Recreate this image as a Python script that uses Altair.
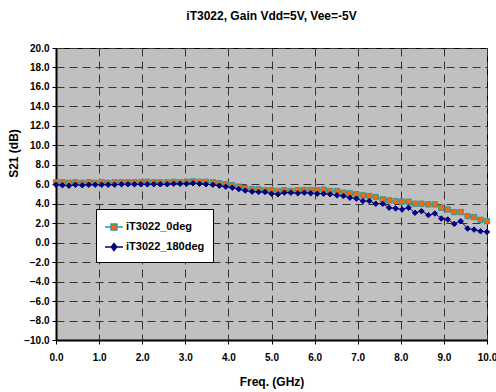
import altair as alt
import pandas as pd

freq = [0.00, 0.15, 0.30, 0.45, 0.61, 0.76, 0.91, 1.06, 1.21, 1.36,
        1.52, 1.67, 1.82, 1.97, 2.12, 2.27, 2.42, 2.58, 2.73, 2.88,
        3.03, 3.18, 3.33, 3.48, 3.64, 3.79, 3.94, 4.09, 4.24, 4.39,
        4.55, 4.70, 4.85, 5.00, 5.15, 5.30, 5.45, 5.61, 5.76, 5.91,
        6.06, 6.21, 6.36, 6.52, 6.67, 6.82, 6.97, 7.12, 7.27, 7.42,
        7.58, 7.73, 7.88, 8.03, 8.18, 8.33, 8.48, 8.64, 8.79, 8.94,
        9.09, 9.24, 9.39, 9.55, 9.70, 9.85, 10.00]

s21_0deg = [6.2, 6.2, 6.15, 6.2, 6.15, 6.2, 6.15, 6.2, 6.15, 6.2,
            6.2, 6.2, 6.2, 6.2, 6.25, 6.2, 6.2, 6.2, 6.25, 6.2,
            6.25, 6.3, 6.25, 6.25, 6.2, 6.1, 6.0, 5.9, 5.75, 5.6,
            5.48, 5.48, 5.38, 5.38, 5.31, 5.38, 5.31, 5.38, 5.41, 5.41,
            5.38, 5.45, 5.31, 5.31, 5.14, 5.07, 4.97, 4.86, 4.79, 4.69,
            4.45, 4.34, 4.28, 4.21, 4.21, 4.0, 4.0, 3.93, 3.93, 3.59,
            3.41, 3.14, 3.14, 2.72, 2.62, 2.34, 2.21]

s21_180deg = [5.95, 5.9, 5.85, 5.95, 5.9, 5.95, 5.95, 5.95, 5.95, 5.95,
              6.0, 6.0, 6.0, 6.0, 6.0, 6.0, 6.0, 6.0, 6.05, 6.05,
              6.05, 6.1, 6.05, 6.0, 5.95, 5.85, 5.75, 5.65, 5.5, 5.35,
              5.24, 5.21, 5.21, 5.03, 4.97, 5.14, 5.14, 5.07, 5.14, 5.07,
              5.03, 5.03, 4.97, 4.86, 4.79, 4.62, 4.52, 4.28, 4.28, 4.0,
              4.0, 3.59, 3.52, 3.41, 3.59, 3.07, 3.24, 2.83, 3.0, 2.48,
              2.38, 1.93, 2.21, 1.45, 1.34, 1.17, 1.10]

series_names = ["iT3022_0deg", "iT3022_180deg"]
x_ticks = [0, 1, 2, 3, 4, 5, 6, 7, 8, 9, 10]
y_ticks = [-10, -8, -6, -4, -2, 0, 2, 4, 6, 8, 10, 12, 14, 16, 18, 20]

df = pd.concat([
    pd.DataFrame({"freq": freq, "s21": s21_0deg, "series": series_names[0]}),
    pd.DataFrame({"freq": freq, "s21": s21_180deg, "series": series_names[1]}),
])

FONT = "Liberation Sans"
GRID = "#333333"

x_enc = alt.X("freq:Q", scale=alt.Scale(domain=[0, 10], nice=False),
              axis=alt.Axis(values=x_ticks, format=".1f", title="Freq. (GHz)",
                            grid=True, gridDash=[8, 5], gridColor=GRID, gridWidth=1,
                            domainColor="black", domainWidth=2, tickColor="black",
                            tickSize=4, labelPadding=8, titlePadding=14,
                            labelFlush=False))
y_enc = alt.Y("s21:Q", scale=alt.Scale(domain=[-10, 20], nice=False),
              axis=alt.Axis(values=y_ticks, format=".1f", title="S21 (dB)",
                            grid=True, gridDash=[8, 5], gridColor=GRID, gridWidth=1,
                            domainColor="black", domainWidth=2, tickColor="black",
                            tickSize=4, labelPadding=3, titleX=-36, titleY=105,
                            titleAnchor="middle"))

base = alt.Chart(df)

o_line = base.transform_filter(alt.datum.series == series_names[0]).mark_line(
    color="#4a8a8a", strokeWidth=1).encode(x=x_enc, y=y_enc)
o_pts = base.transform_filter(alt.datum.series == series_names[0]).mark_point(
    shape="square", filled=True, fill="#FF6600", stroke="#339999", strokeWidth=1,
    size=28, opacity=1).encode(x=x_enc, y=y_enc)
b_line = base.transform_filter(alt.datum.series == series_names[1]).mark_line(
    color="#000080", strokeWidth=1).encode(x=x_enc, y=y_enc)
b_pts = base.transform_filter(alt.datum.series == series_names[1]).mark_point(
    shape="diamond", filled=True, fill="#000080", stroke="#000080", strokeWidth=1,
    size=30, opacity=1).encode(x=x_enc, y=y_enc)

sq_path = "M-1,0H-0.33M0.33,0H1M-0.33,-0.33H0.33V0.33H-0.33Z"
dm_path = "M-1,0H1M0,-0.38L0.3,0L0,0.38L-0.3,0Z"

leg = alt.Legend(title=None, orient="none", legendX=40, legendY=161,
                 fillColor="white", strokeColor="black", padding=8,
                 labelFont=FONT, labelFontSize=11, labelFontWeight="bold",
                 labelColor="black", symbolSize=324, symbolStrokeWidth=1.5,
                 rowPadding=4, labelOffset=2, symbolOpacity=1)

legend_layer = base.transform_filter("false").mark_point(
    filled=True, opacity=1).encode(
    x=x_enc, y=y_enc,
    shape=alt.Shape("series:N", scale=alt.Scale(domain=series_names, range=[sq_path, dm_path]), legend=leg),
    fill=alt.Fill("series:N", scale=alt.Scale(domain=series_names, range=["#FF6600", "#000080"]), legend=leg),
    stroke=alt.Stroke("series:N", scale=alt.Scale(domain=series_names, range=["#339999", "#000080"]), legend=leg),
)

chart = alt.layer(o_line, o_pts, b_line, b_pts, legend_layer).properties(
    width=431, height=292,
    title=alt.TitleParams("iT3022, Gain Vdd=5V, Vee=-5V", font=FONT, fontSize=12,
                          fontWeight="bold", color="black", anchor="middle", offset=20),
    autosize=alt.AutoSizeParams(type="none"),
    padding={"left": 56, "top": 48, "right": 9, "bottom": 52},
    background="white",
).configure_view(
    fill="#C0C0C0", stroke="black", strokeWidth=1
).configure_axis(
    labelFont=FONT, labelFontSize=10, labelFontWeight="bold", labelColor="black",
    titleFont=FONT, titleFontSize=12, titleFontWeight="bold", titleColor="black",
)

chart.save("out.html", embed_options={"renderer": "svg", "actions": False})
